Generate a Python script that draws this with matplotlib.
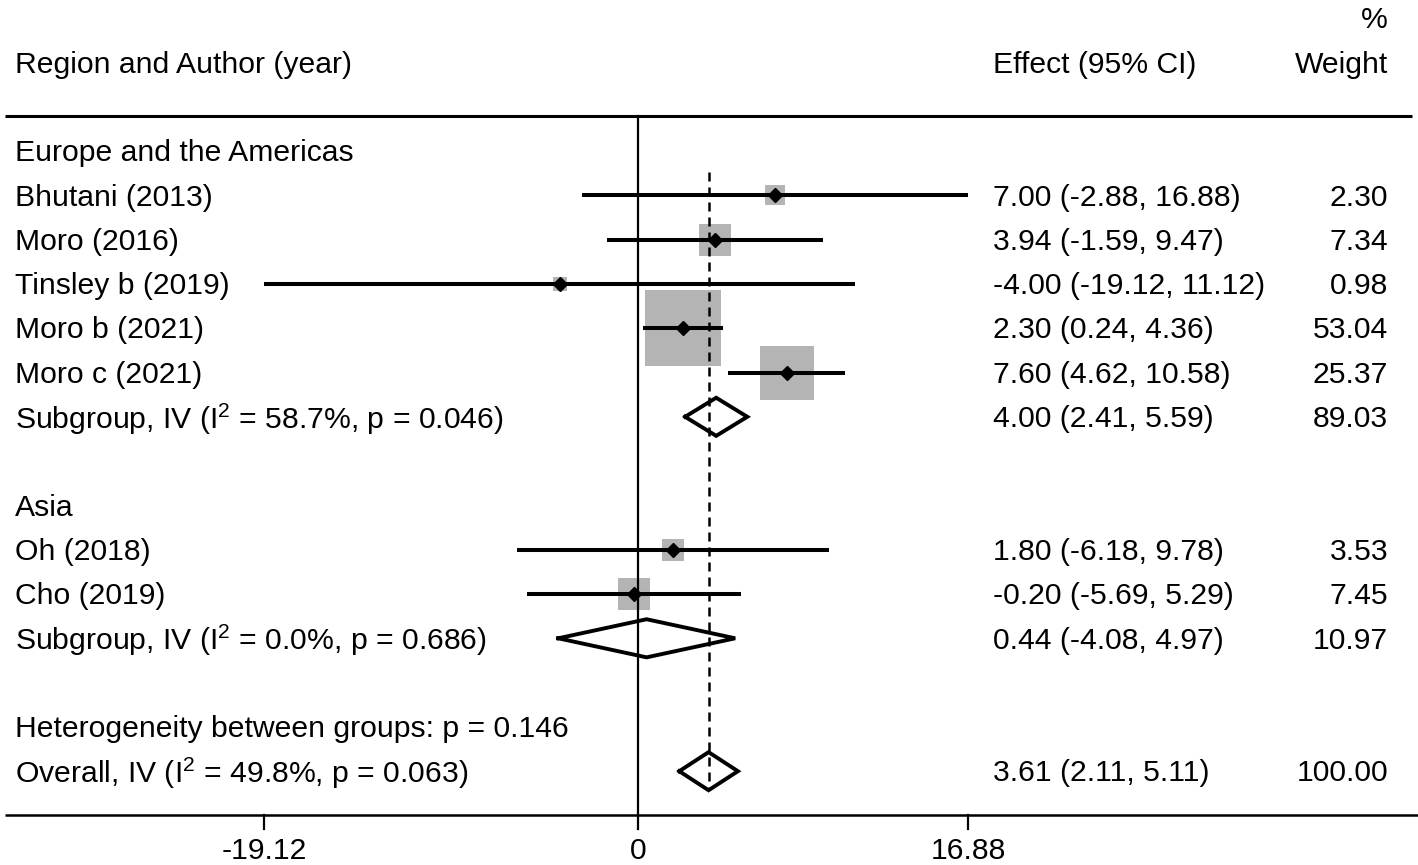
import numpy as np
import matplotlib.pyplot as plt
from matplotlib.transforms import blended_transform_factory

plt.rcParams['font.family'] = ['Liberation Sans', 'DejaVu Sans']
plt.rcParams['mathtext.fontset'] = 'custom'
plt.rcParams['mathtext.rm'] = 'Liberation Sans'
plt.rcParams['mathtext.it'] = 'Liberation Sans'

# ---- data ----
regions = ["Europe and the Americas", "Asia"]
studies = ["Bhutani (2013)", "Moro (2016)", "Tinsley b (2019)", "Moro b (2021)",
           "Moro c (2021)", "Oh (2018)", "Cho (2019)"]
study_region = [0, 0, 0, 0, 0, 1, 1]
effect = [7.00, 3.94, -4.00, 2.30, 7.60, 1.80, -0.20]
ci_low = [-2.88, -1.59, -19.12, 0.24, 4.62, -6.18, -5.69]
ci_high = [16.88, 9.47, 11.12, 4.36, 10.58, 9.78, 5.29]
weight = [2.30, 7.34, 0.98, 53.04, 25.37, 3.53, 7.45]

sub_effect = [4.00, 0.44]
sub_low = [2.41, -4.08]
sub_high = [5.59, 4.97]
sub_weight = [89.03, 10.97]
sub_i2 = [58.7, 0.0]
sub_p = [0.046, 0.686]

het_p = 0.146
overall = (3.61, 2.11, 5.11)
overall_weight = 100.00
overall_i2 = 49.8
overall_p = 0.063

xticks = [-19.12, 0, 16.88]

# ---- layout (pixels) ----
W, H = 1418, 865
zero_px, px_unit = 638, 19.55
row0_px, row_px = 151, 44.3

fig = plt.figure(figsize=(W / 100, H / 100), dpi=100)
ax = fig.add_axes([0, 0, 1, 1])
ax.axis('off')
ax.set_xlim(-zero_px / px_unit, (W - zero_px) / px_unit)
ax.set_ylim((H - row0_px) / row_px, -row0_px / row_px)

def prow(y):
    return (y - row0_px) / row_px

tr = blended_transform_factory(ax.transAxes, ax.transData)
fs = 21.7
lab_x, eff_x, wt_x = 15 / W, 993 / W, 1388 / W
dy = 0.05  # text sits a touch below row centre

def txt(x, y, s, **kw):
    ax.text(x, y + dy, s, transform=tr, fontsize=fs, va='center', **kw)

# header
txt(lab_x, prow(63), "Region and Author (year)")
txt(eff_x, prow(63), "Effect (95% CI)")
txt(wt_x, prow(63), "Weight", ha='right')
txt(wt_x, prow(18), "%", ha='right')

top_rule = prow(116)
bottom_rule = prow(815)
ax.plot([5 / W, 1412 / W], [top_rule, top_rule], transform=tr, color='black', lw=2.2,
        solid_capstyle='butt')
ax.plot([5 / W, 1.0], [bottom_rule, bottom_rule], transform=tr, color='black', lw=1.8,
        solid_capstyle='butt')


def diamond(y, est, lo, hi, h=0.43):
    ax.plot([lo, est, hi, est, lo], [y, y - h, y, y + h, y], color='black', lw=2.8,
            solid_joinstyle='miter', zorder=4)


row = 0
for g, reg in enumerate(regions):
    txt(lab_x, row, reg)
    row += 1
    for i in [k for k in range(len(studies)) if study_region[k] == g]:
        side = (4 + 10 * np.sqrt(weight[i])) * 0.72
        ax.scatter(effect[i], row, marker='s', s=side ** 2, color='#b4b4b4',
                   linewidths=0, zorder=1)
        ax.plot([ci_low[i], ci_high[i]], [row, row], color='black', lw=2.9,
                solid_capstyle='butt', zorder=3)
        ax.plot(effect[i], row, marker='D', ms=7, color='black', zorder=5)
        txt(lab_x, row, studies[i])
        txt(eff_x, row, f"{effect[i]:.2f} ({ci_low[i]:.2f}, {ci_high[i]:.2f})")
        txt(wt_x, row, f"{weight[i]:.2f}", ha='right')
        row += 1
    diamond(row, sub_effect[g], sub_low[g], sub_high[g])
    txt(lab_x, row, f"Subgroup, IV (I$^{{2}}$ = {sub_i2[g]:.1f}%, p = {sub_p[g]:.3f})")
    txt(eff_x, row, f"{sub_effect[g]:.2f} ({sub_low[g]:.2f}, {sub_high[g]:.2f})")
    txt(wt_x, row, f"{sub_weight[g]:.2f}", ha='right')
    row += 2

txt(lab_x, row, f"Heterogeneity between groups: p = {het_p:.3f}")
row += 1
diamond(row, *overall)
txt(lab_x, row, f"Overall, IV (I$^{{2}}$ = {overall_i2:.1f}%, p = {overall_p:.3f})")
txt(eff_x, row, f"{overall[0]:.2f} ({overall[1]:.2f}, {overall[2]:.2f})")
txt(wt_x, row, f"{overall_weight:.2f}", ha='right')

# reference lines
ax.plot([0, 0], [top_rule, bottom_rule], color='black', lw=1.6, zorder=2)
ax.plot([overall[0], overall[0]], [prow(172), row + 0.43], color='black', lw=1.8,
        ls=(0, (3.6, 2.4)), zorder=2)

# x axis ticks
for t in xticks:
    ax.plot([t, t], [bottom_rule, prow(829)], color='black', lw=1.6)
    ax.text(t, prow(851), f"{t:g}" if t == 0 else f"{t:.2f}", fontsize=fs,
            ha='center', va='center')

fig.savefig("out.png", dpi=100)
